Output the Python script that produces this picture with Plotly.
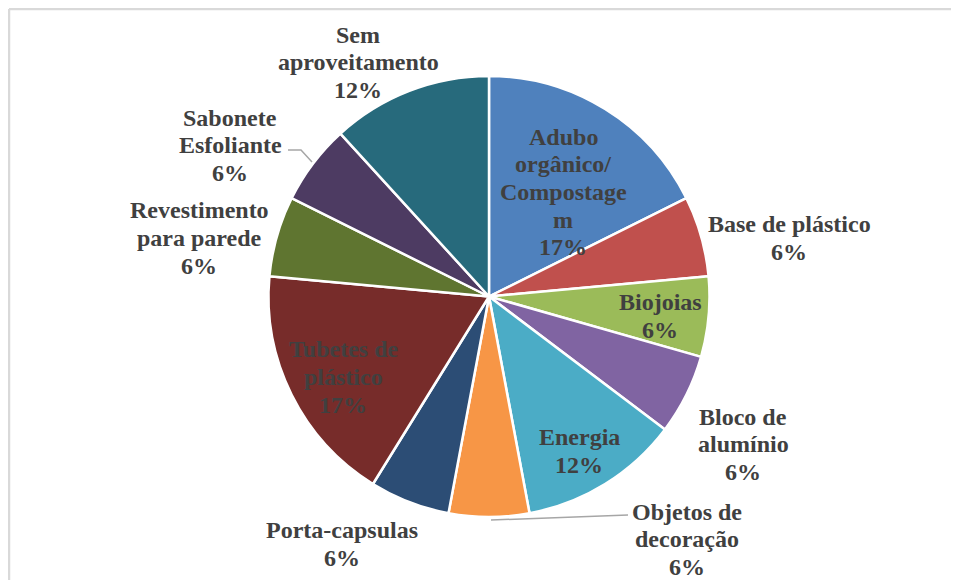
import plotly.graph_objects as go

# the page adds an 8px body margin, so the figure is drawn 8px in from the window edge
OFF = 8
W, H = 959 - OFF, 580 - OFF

categories = [
    "Adubo orgânico/ Compostagem",
    "Base de plástico",
    "Biojoias",
    "Bloco de alumínio",
    "Energia",
    "Objetos de decoração",
    "Porta-capsulas",
    "Tubetes de plástico",
    "Revestimento para parede",
    "Sabonete Esfoliante",
    "Sem aproveitamento",
]
counts = [3, 1, 1, 1, 2, 1, 1, 3, 1, 1, 2]
pct_labels = ["17%", "6%", "6%", "6%", "12%", "6%", "6%", "17%", "6%", "6%", "12%"]

slice_colors = [
    '#4F81BD', '#C0504D', '#9BBB59', '#8064A2', '#4BACC6', '#F79646',
    '#2C4D75', '#772C2A', '#5F7530', '#4D3B62', '#276A7C',
]

# label text as broken in the original, plus where each block sits (window px)
label_lines = [
    ["Adubo", "orgânico/", "Compostage", "m"],
    ["Base de plástico"],
    ["Biojoias"],
    ["Bloco de", "alumínio"],
    ["Energia"],
    ["Objetos de", "decoração"],
    ["Porta-capsulas"],
    ["Tubetes de", "plástico"],
    ["Revestimento", "para parede"],
    ["Sabonete", "Esfoliante"],
    ["Sem", "aproveitamento"],
]
label_pos = [
    (563, 192), (789, 238), (660, 316), (743, 444), (579, 451), (687, 539),
    (342, 544), (343, 377), (199, 238), (230, 145), (358, 62),
]
LINE_H = 27.5


def fx(px):
    return (px - OFF) / W


def fy(py):
    return 1 - (py - OFF) / H


fig = go.Figure(go.Pie(
    labels=categories,
    values=counts,
    sort=False,
    direction='clockwise',
    rotation=0,
    textinfo='none',
    hoverinfo='label+percent',
    marker=dict(colors=slice_colors, line=dict(color='white', width=2.5)),
    domain=dict(x=[fx(268), fx(710)], y=[fy(517), fy(76)]),
    showlegend=False,
))

for lines, pct, (px, py) in zip(label_lines, pct_labels, label_pos):
    rows = lines + [pct]
    n = len(rows)
    for i, row in enumerate(rows):
        ly = py + (i - (n - 1) / 2) * LINE_H
        fig.add_annotation(
            x=fx(px), y=fy(ly), xref='paper', yref='paper',
            text=f"<b>{row}</b>", showarrow=False,
            xanchor='center', yanchor='middle',
            font=dict(family='Liberation Serif', size=24, color='#404040'),
        )

# leader lines
lead = dict(color='#A6A6A6', width=1.5)
fig.add_shape(type='path', xref='paper', yref='paper',
              path=f"M {fx(288)},{fy(150)} L {fx(301)},{fy(150)} L {fx(312)},{fy(162)}",
              line=lead)
fig.add_shape(type='line', xref='paper', yref='paper',
              x0=fx(628), y0=fy(515), x1=fx(491), y1=fy(520), line=lead)

# chart frame (only its top and left edges are inside the picture)
frame = dict(color='#D9D9D9', width=2.5)
fig.add_shape(type='line', xref='paper', yref='paper',
              x0=fx(9), y0=fy(9), x1=1.0, y1=fy(9), line=frame)
fig.add_shape(type='line', xref='paper', yref='paper',
              x0=fx(9), y0=fy(9), x1=fx(9), y1=0.0, line=frame)

fig.update_layout(
    width=W, height=H,
    margin=dict(l=0, r=0, t=0, b=0),
    paper_bgcolor='white',
    plot_bgcolor='white',
)

fig.write_html("out.html", config={'displayModeBar': False})
